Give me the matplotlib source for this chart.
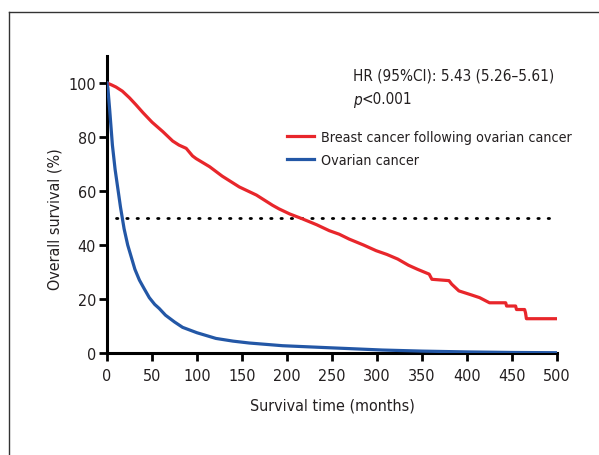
import matplotlib
matplotlib.use('Agg')
import matplotlib.pyplot as plt
from matplotlib.lines import Line2D

# ==========================================
# 1. DATA
# ==========================================
# Breast cancer following ovarian cancer
breast_t = [0, 5, 10, 17, 25, 32, 40, 50, 62, 73, 80, 88, 95, 99, 114, 128,
            147, 166, 184, 191, 203, 217, 233, 247, 258, 269, 285, 299, 311,
            323, 335, 345, 358, 361, 380, 383, 391, 405, 414, 425, 443, 444,
            454, 455, 464, 465, 466, 500]
breast_s = [100, 99.3, 98.5, 97, 94.5, 92, 89, 85.5, 82, 78.5, 77, 75.8, 73,
            72, 69, 65.5, 61.5, 58.5, 54.7, 53.4, 51.5, 49.7, 47.5, 45.3, 44,
            42.2, 40, 37.9, 36.5, 34.8, 32.5, 31, 29.2, 27.3, 26.8, 25.5, 23,
            21.5, 20.5, 18.6, 18.6, 17.4, 17.4, 16.1, 16.1, 14.9, 12.7, 12.7]

# Ovarian cancer
ovarian_t = [0, 1, 3, 6, 9, 12, 15, 19, 23, 27, 31, 36, 41, 47, 53, 58, 65,
             75, 84, 100, 121, 140, 158, 195, 250, 306, 350, 400, 450, 500]
ovarian_s = [100, 98, 90, 77, 68, 61, 54, 46, 40, 35.5, 31, 27, 24, 20.5, 18,
             16.5, 14, 11.5, 9.5, 7.5, 5.4, 4.4, 3.7, 2.7, 1.9, 1.1, 0.7, 0.4,
             0.2, 0.1]

series_labels = ['Breast cancer following ovarian cancer', 'Ovarian cancer']
median_level = 50
median_start = 10
hr_text = 'HR (95%CI): 5.43 (5.26\u20135.61)'
p_text = '<0.001'

x_ticks = list(range(0, 501, 50))
y_ticks = list(range(0, 101, 20))

# ==========================================
# 2. STYLE
# ==========================================
# condensed face to get close to the narrow font of the original
plt.rcParams['font.family'] = ['DejaVu Sans']
plt.rcParams['font.stretch'] = 'condensed'
text_col = '#231f20'
red = '#e8262b'
blue = '#2357a6'

fig = plt.figure(figsize=(5.99, 4.56), dpi=100)
ax = fig.add_axes([107 / 599, 1 - 354 / 456, 450 / 599, 297 / 456])

# ==========================================
# 3. CURVES
# ==========================================
ax.plot(breast_t, breast_s, color=red, lw=2.3, solid_joinstyle='round',
        label=series_labels[0], zorder=3)
ax.plot(ovarian_t, ovarian_s, color=blue, lw=2.3, solid_joinstyle='round',
        label=series_labels[1], zorder=3)

# median survival reference line
ax.plot([median_start, 500], [median_level, median_level], color='black',
        lw=2.0, linestyle=(0, (0.5, 3.2)), dash_capstyle='round', zorder=2)

# ==========================================
# 4. AXES
# ==========================================
ax.set_xlim(0, 500)
ax.set_ylim(0, 110)
ax.set_xticks(x_ticks)
ax.set_yticks(y_ticks)
for side in ['top', 'right']:
    ax.spines[side].set_visible(False)
for side in ['left', 'bottom']:
    ax.spines[side].set_linewidth(2.2)
    ax.spines[side].set_color('black')
    ax.spines[side].set_capstyle('projecting')
ax.tick_params(axis='both', direction='out', length=5.5, width=2.0,
               color='black', labelsize=11.5, labelcolor=text_col)
ax.tick_params(axis='x', pad=5.5)
ax.tick_params(axis='y', pad=2.5)

ax.set_xlabel('Survival time (months)', fontsize=11.5, color=text_col,
              labelpad=10)
ax.set_ylabel('Overall survival (%)', fontsize=11.5, color=text_col)
ax.yaxis.set_label_coords(-0.098, 50 / 110)

# ==========================================
# 5. ANNOTATIONS + LEGEND
# ==========================================
fig.text(353 / 599, 1 - 76 / 456, hr_text, fontsize=11, color=text_col,
         va='center', ha='left')
p_lbl = fig.text(353 / 599, 1 - 100 / 456, 'p', fontsize=11, color=text_col,
                 style='italic', va='center', ha='left')
ax.annotate(p_text, xy=(1, 0), xycoords=p_lbl, va='bottom', ha='left',
            fontsize=11, color=text_col)

ax.legend(loc='center left', bbox_to_anchor=(287 / 599, 1 - 149.5 / 456),
          bbox_transform=fig.transFigure, frameon=False, fontsize=10.3,
          handlelength=1.9, handletextpad=0.5, borderpad=0, borderaxespad=0,
          labelspacing=0.6, labelcolor=text_col)

# figure border (left and top edges visible in the source crop)
border_x = 8.5 / 599
border_y = 1 - 12.5 / 456
fig.add_artist(Line2D([border_x, border_x], [0, border_y], color='#333333',
                      lw=1.0, transform=fig.transFigure))
fig.add_artist(Line2D([border_x, 1], [border_y, border_y], color='#333333',
                      lw=1.0, transform=fig.transFigure))

fig.savefig('out.png', dpi=100)
